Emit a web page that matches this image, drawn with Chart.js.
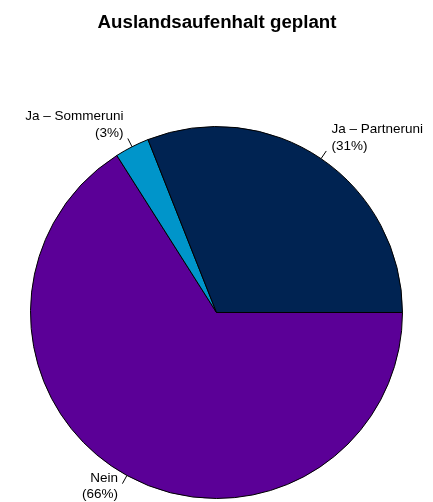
<!DOCTYPE html>
<html>
<head>
<meta charset="utf-8">
<style>
  html, body { margin: 0; padding: 0; background: #ffffff; }
  #wrap { width: 433px; height: 502px; }
</style>
<script src="https://cdn.jsdelivr.net/npm/chart.js@4/dist/chart.umd.min.js"></script>
</head>
<body>
<div id="wrap"><canvas id="c" width="433" height="502"></canvas></div>
<script>
// Plans for a stay abroad (share of respondents, %)
const categories = ['Ja \u2013 Partneruni', 'Ja \u2013 Sommeruni', 'Nein'];
const shares = [31, 3, 66];
const sliceColors = ['#002352', '#0095ca', '#5b0097'];
const chartTitle = 'Auslandsaufenhalt geplant';

const FONT = "'Liberation Sans', Arial, Helvetica, sans-serif";

// Slices run counter-clockwise from 3 o'clock; Chart.js draws clockwise,
// so the series is fed in reverse order starting at 3 o'clock.
const order = categories.map((_, i) => i).reverse();

const labelPlugin = {
  id: 'pieLabels',
  afterDraw(chart) {
    const ctx = chart.ctx;
    ctx.save();
    // title
    ctx.fillStyle = '#000';
    ctx.font = 'bold 18.7px ' + FONT;
    ctx.textAlign = 'center';
    ctx.textBaseline = 'alphabetic';
    ctx.fillText(chartTitle, 217, 28);

    // outer labels with short leader ticks
    const meta = chart.getDatasetMeta(0);
    ctx.font = '13.5px ' + FONT;
    ctx.strokeStyle = '#000';
    ctx.lineWidth = 1;
    meta.data.forEach((arc, j) => {
      const idx = order[j];
      const p = arc.getProps(['x', 'y', 'startAngle', 'endAngle', 'outerRadius'], true);
      const mid = (p.startAngle + p.endAngle) / 2;
      const cs = Math.cos(mid), sn = Math.sin(mid);
      const r = p.outerRadius;
      ctx.beginPath();
      ctx.moveTo(p.x + r * cs, p.y + r * sn);
      ctx.lineTo(p.x + 1.05 * r * cs, p.y + 1.05 * r * sn);
      ctx.stroke();
      const ax = p.x + 1.1 * r * cs;
      const ay = p.y + 1.1 * r * sn;
      ctx.textAlign = cs < 0 ? 'right' : 'left';
      ctx.fillText(categories[idx], ax, ay - 10);
      ctx.fillText('(' + shares[idx] + '%)', ax, ay + 6.5);
    });
    ctx.restore();
  }
};

new Chart(document.getElementById('c'), {
  type: 'pie',
  data: {
    labels: order.map(i => categories[i]),
    datasets: [{
      data: order.map(i => shares[i]),
      backgroundColor: order.map(i => sliceColors[i]),
      borderColor: '#000000',
      borderWidth: 1,
      hoverOffset: 0
    }]
  },
  options: {
    responsive: false,
    animation: false,
    devicePixelRatio: 1,
    rotation: 90,
    layout: { padding: { top: 126, bottom: 3, left: 30, right: 30 } },
    events: [],
    plugins: {
      legend: { display: false },
      title: { display: false },
      tooltip: { enabled: false }
    }
  },
  plugins: [labelPlugin]
});
</script>
</body>
</html>
